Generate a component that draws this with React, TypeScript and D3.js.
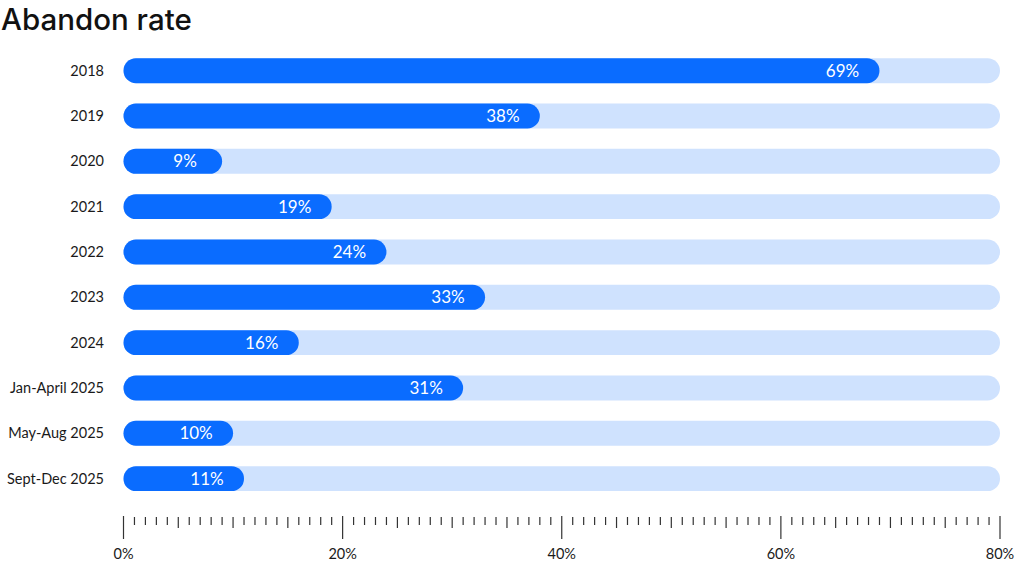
import React from "react";
import * as d3 from "d3";

const categories = [
  "2018",
  "2019",
  "2020",
  "2021",
  "2022",
  "2023",
  "2024",
  "Jan-April 2025",
  "May-Aug 2025",
  "Sept-Dec 2025",
];
const values = [69, 38, 9, 19, 24, 33, 16, 31, 10, 11];
const majorTicks = [0, 20, 40, 60, 80];
const minorTicks = d3.range(0, 81, 1);

const W = 1024;
const H = 567;
const BLUE = "#0a6cff";
const TRACK = "#cfe2fe";
const FONT = "Lato, 'Open Sans', sans-serif";
const TITLE_FONT = "Inter, 'Open Sans', sans-serif";

export default function App() {
  const x = d3.scaleLinear().domain([0, 80]).range([123.5, 1000]);
  const y = d3
    .scaleBand<string>()
    .domain(categories)
    .range([48, 501.3])
    .paddingInner(0.45)
    .paddingOuter(0.225);
  const bw = y.bandwidth();
  const r = bw / 2;
  const axisY = 516;

  return (
    <div style={{ position: "absolute", left: 0, top: 0 }}>
      <svg width={W} height={H} style={{ display: "block", background: "#fff" }}>
        <text x={1} y={30} fontFamily={TITLE_FONT} fontSize={29.5} fontWeight={500} fill="#111">
          Abandon rate
        </text>
        {categories.map((c, i) => {
          const yy = y(c)!;
          const v = values[i];
          const x0 = x(0);
          const x1 = x(v);
          return (
            <g key={c}>
              <text
                x={104}
                y={yy + r}
                dy="0.35em"
                textAnchor="end"
                fontFamily={FONT}
                fontSize={14.5}
                fill="#1a1a1a"
              >
                {c}
              </text>
              <rect x={x0} y={yy} width={x(80) - x0} height={bw} rx={r} ry={r} fill={TRACK} />
              <rect x={x0} y={yy} width={x1 - x0} height={bw} rx={r} ry={r} fill={BLUE} />
              <text
                x={x1 - 37}
                y={yy + r}
                dy="0.36em"
                textAnchor="middle"
                fontFamily={FONT}
                fontSize={17}
                fill="#fff"
              >
                {v}%
              </text>
            </g>
          );
        })}
        <g stroke="#333" strokeWidth={1.2}>
          {minorTicks.map((t) => {
            const major = t % 20 === 0;
            const mid = !major && t % 5 === 0;
            const len = major ? 23 : mid ? 11 : 8;
            const y0 = major ? axisY : axisY + 1;
            return (
              <line
                key={t}
                x1={x(t)}
                x2={x(t)}
                y1={y0}
                y2={y0 + len}
              />
            );
          })}
        </g>
        {majorTicks.map((t) => (
          <text
            key={t}
            x={x(t)}
            y={554}
            dy="0.35em"
            textAnchor="middle"
            fontFamily={FONT}
            fontSize={14.5}
            fill="#1a1a1a"
          >
            {t}%
          </text>
        ))}
      </svg>
    </div>
  );
}
